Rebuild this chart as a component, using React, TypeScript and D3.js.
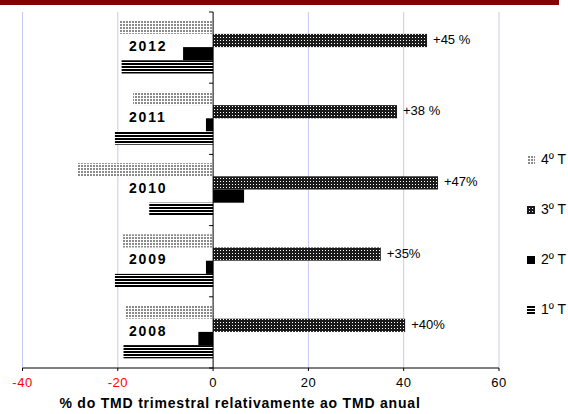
import React from 'react';
import * as d3 from 'd3';

const years = ['2008', '2009', '2010', '2011', '2012'];
const q1 = [-18.8, -20.6, -13.4, -20.6, -19.2];
const q2 = [-3.1, -1.5, 6.5, -1.5, -6.3];
const q3 = [40.3, 35.2, 47.2, 38.6, 44.9];
const q4 = [-18.5, -18.9, -28.5, -16.8, -19.7];
const q3Labels = ['+40%', '+35%', '+47%', '+38 %', '+45 %'];
const seriesKeys = ['q4', 'q3', 'q2', 'q1'];
const seriesNames = ['4º T', '3º T', '2º T', '1º T'];
const xTicks = [-40, -20, 0, 20, 40, 60];
const axisTitle = '% do TMD trimestral relativamente ao TMD anual';

const W = 568;
const H = 414;
const FONT = 'Liberation Sans, Arial, sans-serif';

export default function App() {
  const x = d3.scaleLinear().domain([-40, 60]).range([22.5, 499]);
  const y = d3.scaleBand<string>().domain([...years].reverse()).range([12, 368]).padding(0);
  const step = y.bandwidth();
  const sub = d3.scaleBand<string>().domain(seriesKeys).range([8.7, 8.7 + 52.8]).padding(0);
  const data: Record<string, number[]> = { q1, q2, q3, q4 };
  const fills: Record<string, string> = {
    q4: 'url(#pDot)',
    q3: 'url(#pCheck)',
    q2: '#000',
    q1: 'url(#pLines)',
  };
  const x0 = x(0);
  const boundaries = d3.range(years.length + 1).map((i) => 12 + i * step);

  return (
    <svg width={W} height={H} style={{ position: 'absolute', left: 0, top: 0, background: '#fff' }} fontFamily={FONT}>
      <defs>
        <pattern id="pDot" width={3} height={3} patternUnits="userSpaceOnUse">
          <rect width={3} height={3} fill="#fff" />
          <rect width={2} height={2} fill="#8a8a8a" />
        </pattern>
        <pattern id="pCheck" width={3} height={3} patternUnits="userSpaceOnUse">
          <rect width={3} height={3} fill="#1a1a1a" />
          <rect x={1} y={1} width={1} height={1} fill="#fff" />
        </pattern>
        <pattern id="pLines" width={4} height={3} patternUnits="userSpaceOnUse">
          <rect width={4} height={3} fill="#fff" />
          <rect width={4} height={2} fill="#000" />
        </pattern>
      </defs>
      <rect x={0} y={0} width={559} height={5} fill="#850000" />
      {xTicks.filter((t) => t !== 0).map((t) => (
        <line key={'g' + t} x1={x(t)} x2={x(t)} y1={12} y2={368} stroke="#c8c8f4" strokeWidth={1} />
      ))}
      {years.map((yr, i) =>
        seriesKeys.map((k) => {
          const v = data[k][i];
          const by = (y(yr) as number) + (sub(k) as number);
          return (
            <rect
              key={yr + k}
              x={Math.min(x(v), x0)}
              y={by}
              width={Math.abs(x(v) - x0)}
              height={sub.bandwidth()}
              fill={fills[k]}
            />
          );
        })
      )}
      {years.map((yr, i) => (
        <text
          key={'l' + yr}
          x={x(q3[i]) + 6}
          y={(y(yr) as number) + (sub('q3') as number) + sub.bandwidth() / 2}
          dominantBaseline="middle"
          fontSize={13}
          fill="#000"
        >
          {q3Labels[i]}
        </text>
      ))}
      {years.map((yr) => (
        <text
          key={'y' + yr}
          x={129}
          y={(y(yr) as number) + 8.7 + 26.4}
          dominantBaseline="middle"
          fontSize={14}
          fontWeight="bold"
          letterSpacing={1.8}
          fill="#000"
        >
          {yr}
        </text>
      ))}
      <line x1={x0} x2={x0} y1={12} y2={368} stroke="#000" strokeWidth={1} />
      {boundaries.map((b, i) => (
        <line key={'yt' + i} x1={x0 - 4} x2={x0} y1={b} y2={b} stroke="#000" strokeWidth={1} />
      ))}
      <line x1={x(-40)} x2={x(60)} y1={368} y2={368} stroke="#000" strokeWidth={1} />
      {xTicks.map((t) => (
        <g key={'t' + t}>
          <line x1={x(t)} x2={x(t)} y1={368} y2={371} stroke="#000" />
          <text x={x(t)} y={384} textAnchor="middle" dominantBaseline="middle" fontSize={13} letterSpacing={0.5} fill={t < 0 ? '#ff0000' : '#000'}>
            {t}
          </text>
        </g>
      ))}
      <text x={240} y={404} textAnchor="middle" dominantBaseline="middle" fontSize={14} fontWeight="bold" letterSpacing={0.8} fill="#000">
        {axisTitle}
      </text>
      {seriesKeys.map((k, i) => (
        <g key={'lg' + k}>
          <rect x={527} y={160 + i * 50 - 4} width={8} height={8} fill={fills[k]} />
          <text x={541} y={160 + i * 50} dominantBaseline="middle" fontSize={14} fill="#000">
            {seriesNames[i]}
          </text>
        </g>
      ))}
    </svg>
  );
}
